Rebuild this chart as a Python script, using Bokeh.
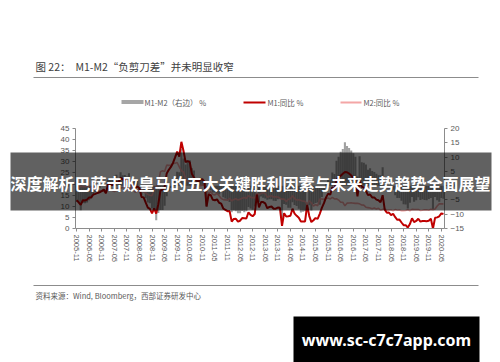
import math
from bokeh.plotting import figure
from bokeh.layouts import column
from bokeh.models import Range1d, LinearAxis, FixedTicker, Label
from bokeh.embed import file_html
from bokeh.resources import INLINE

# ---------------- data (monthly, 2005-11 .. 2020-06) ----------------
m1_yoy = [12.7, 11.8,
          10.6, 12.7, 12.6, 13.0, 14.0, 14.0, 15.3, 15.6, 16.0, 16.3, 16.8, 17.5,
          15.9, 19.9, 19.8, 19.5, 19.9, 20.9, 20.6, 22.8, 22.1, 22.2, 21.7, 21.0,
          20.7, 18.9, 18.3, 18.9, 18.1, 14.2, 14.0, 11.6, 9.4, 8.8, 6.8, 9.1,
          6.7, 10.9, 17.0, 17.5, 18.7, 24.8, 26.4, 27.7, 29.5, 32.0, 34.6, 32.4,
          39.0, 35.0, 29.9, 30.3, 29.9, 24.6, 22.9, 21.9, 20.9, 22.1, 22.1, 21.2,
          9.9, 15.3, 15.0, 12.9, 12.7, 13.1, 11.6, 11.2, 8.9, 8.4, 7.8, 7.9,
          3.1, 4.3, 4.4, 3.1, 3.5, 4.7, 4.6, 4.5, 7.3, 6.1, 5.5, 6.5,
          15.3, 9.5, 11.9, 11.9, 11.3, 9.1, 9.7, 9.9, 8.9, 8.9, 9.4, 9.3,
          1.2, 6.9, 5.4, 5.5, 5.7, 8.9, 6.7, 5.7, 4.8, 3.2, 3.2, 3.2,
          10.6, 5.6, 2.9, 3.7, 4.7, 4.3, 6.6, 9.3, 11.4, 14.0, 15.7, 15.2,
          18.6, 17.4, 22.1, 22.9, 23.7, 24.6, 25.4, 25.3, 24.7, 23.9, 22.7, 21.4,
          14.5, 21.4, 18.8, 18.5, 17.0, 15.0, 15.3, 14.0, 14.0, 13.0, 12.7, 11.8,
          15.0, 8.5, 7.1, 7.2, 6.0, 6.6, 5.1, 3.9, 4.0, 2.7, 1.5, 1.5,
          0.4, 2.0, 4.6, 2.9, 3.4, 4.4, 3.1, 3.4, 3.4, 3.3, 3.5, 4.4,
          0.0, 4.8, 5.0, 5.5, 6.8, 6.5]

m2_yoy = [18.3, 17.6,
          19.2, 18.8, 18.8, 18.9, 19.1, 18.4, 18.4, 17.9, 16.8, 17.1, 16.8, 16.9,
          15.9, 17.8, 17.3, 17.1, 16.7, 17.1, 18.5, 18.1, 18.5, 18.5, 18.5, 16.7,
          18.9, 17.5, 16.3, 16.9, 18.1, 17.4, 16.4, 16.0, 15.3, 15.0, 14.8, 17.8,
          18.8, 20.5, 25.5, 26.0, 25.7, 28.5, 28.4, 28.5, 29.3, 29.4, 29.7, 27.7,
          26.0, 25.5, 22.5, 21.5, 21.0, 18.5, 17.6, 19.2, 19.0, 19.3, 19.5, 19.7,
          17.2, 15.7, 16.6, 15.3, 15.1, 15.9, 14.7, 13.5, 13.0, 12.9, 12.7, 13.6,
          12.4, 13.0, 13.4, 12.8, 13.2, 13.6, 13.9, 13.5, 14.8, 14.1, 13.9, 13.8,
          15.9, 15.2, 15.7, 16.1, 15.8, 14.0, 14.5, 14.7, 14.2, 14.3, 14.2, 13.6,
          13.2, 13.3, 12.1, 13.2, 13.4, 14.7, 13.5, 12.8, 12.9, 12.6, 12.3, 12.2,
          10.8, 12.5, 11.6, 10.1, 10.8, 10.2, 13.3, 13.3, 13.1, 13.5, 13.7, 13.3,
          14.0, 13.3, 13.4, 12.8, 11.8, 11.8, 10.2, 11.4, 11.5, 11.6, 11.4, 11.3,
          11.3, 11.1, 10.6, 10.5, 9.6, 9.4, 9.2, 8.9, 9.2, 8.8, 9.1, 8.2,
          8.6, 8.8, 8.2, 8.3, 8.3, 8.0, 8.5, 8.2, 8.3, 8.0, 8.0, 8.1,
          8.4, 8.0, 8.6, 8.5, 8.5, 8.5, 8.1, 8.2, 8.4, 8.4, 8.2, 8.7,
          8.4, 8.8, 10.1, 11.1, 11.1, 11.1]

# M1-M2 spread (right axis) is by definition M1 yoy minus M2 yoy
m1_m2 = [round(a - b, 1) for a, b in zip(m1_yoy, m2_yoy)]
month_idx = list(range(len(m1_yoy)))

tick_labels = ["2005-11", "2006-05", "2006-11", "2007-05", "2007-11", "2008-05",
               "2008-11", "2009-05", "2009-11", "2010-05", "2010-11", "2011-05",
               "2011-11", "2012-05", "2012-11", "2013-05", "2013-11", "2014-05",
               "2014-11", "2015-05", "2015-11", "2016-05", "2016-11", "2017-05",
               "2017-11", "2018-05", "2018-11", "2019-05", "2019-11", "2020-05"]
tick_pos = [6 * i for i in range(len(tick_labels))]
left_ticks = [0, 5, 10, 15, 20, 25, 30, 35, 40, 45]
right_ticks = [-15, -10, -5, 0, 5, 10, 15, 20]

# ---------------- chart figure ----------------
W, H = 500, 362
FL, FR, FT, FB = 75, 444, 128, 228   # frame edges (canvas px)

p = figure(width=W, height=H, output_backend="svg", toolbar_location=None,
           x_range=Range1d(-0.5, 175.5), y_range=Range1d(0, 45),
           min_border_left=FL, min_border_right=W - FR,
           min_border_top=FT, min_border_bottom=H - FB)
p.frame_align = False
p.outline_line_color = None
p.xgrid.visible = False
p.ygrid.visible = False
p.background_fill_color = "white"
p.border_fill_color = "white"
p.extra_y_ranges = {"r": Range1d(-15, 20)}

AX = "#8c8c8c"
TXT = "#595959"

def style_axis(ax, size="8px"):
    ax.axis_line_color = AX
    ax.major_tick_line_color = AX
    ax.minor_tick_line_color = None
    ax.major_tick_out = 3
    ax.major_tick_in = 0
    ax.major_label_text_font = "Liberation Sans"
    ax.major_label_text_font_size = size
    ax.major_label_text_color = TXT
    ax.major_label_standoff = 3

yl = p.yaxis[0]
yl.ticker = FixedTicker(ticks=left_ticks)
style_axis(yl)

yr = LinearAxis(y_range_name="r", ticker=FixedTicker(ticks=right_ticks))
style_axis(yr)
p.add_layout(yr, "right")

xa = p.xaxis[0]
xa.ticker = FixedTicker(ticks=tick_pos)
xa.major_label_overrides = {t: l for t, l in zip(tick_pos, tick_labels)}
xa.major_label_orientation = -math.pi / 2
style_axis(xa, "7.5px")

p.vbar(x=month_idx, top=m1_m2, bottom=0, width=1.0, y_range_name="r",
       fill_color="#a0a0a0", line_color=None)
p.line(month_idx, m2_yoy, line_color="#f2a2a2", line_width=1.6)
p.line(month_idx, m1_yoy, line_color="#c00000", line_width=2)

# ---------------- overlay figure (page decorations, canvas px coords) ----------------
o = figure(width=W, height=H, output_backend="svg", toolbar_location=None,
           x_range=Range1d(0, W), y_range=Range1d(H, 0),
           min_border=0, margin=(-H, 0, 0, 0))
o.frame_align = False
o.axis.visible = False
o.grid.visible = False
o.outline_line_color = None
o.background_fill_alpha = 0
o.border_fill_alpha = 0

def box(l, r, t, b, color, alpha=1.0):
    o.quad(left=[l], right=[r], top=[t], bottom=[b], fill_color=color,
           fill_alpha=alpha, line_color=None)

def label(cx, cy, text, size, color, font="Noto Sans CJK SC", style="normal",
          align="left"):
    o.add_layout(Label(x=cx, y=cy, text=text, text_font=font, text_font_size=size,
                       text_color=color, text_font_style=style,
                       text_align=align, text_baseline="middle"))

CJK = "Noto Sans CJK SC"
label(35, 66, "图 22：", "10.5px", "#404040", CJK)
label(75, 66, "M1-M2“负剪刀差”并未明显收窄", "10.5px", "#404040", CJK)
box(33, 478, 76.5, 77.5, "#8c8c8c")

# legend
box(121, 143, 99.5, 103.5, "#a6a6a6")
label(144, 102, "M1-M2（右边）  %", "7.5px", TXT, CJK)
box(243, 265, 101, 103, "#c00000")
label(267, 102, "M1:同比  %", "7.5px", TXT, CJK)
box(340, 361, 101, 103, "#f4a6a6")
label(363, 102, "M2:同比  %", "7.5px", TXT, CJK)

box(33, 478, 284.5, 285.5, "#8c8c8c")
label(35, 295, "资料来源：Wind, Bloomberg，西部证券研发中心", "7.5px", TXT, CJK)

# overlay banner
box(10, 491, 152, 210, "#000000", 0.62)
label(250, 182, "深度解析巴萨击败皇马的五大关键胜利因素与未来走势趋势全面展望",
      "16px", "white", CJK, "bold", "center")

# watermark box
box(293, 479, 316, 362, "#000000")
label(386, 339, "www.sc-c7c7app.com", "16px", "white", "Noto Sans", "bold", "center")

layout = column(p, o, spacing=0)
open("out.html", "w").write(file_html(layout, INLINE))
